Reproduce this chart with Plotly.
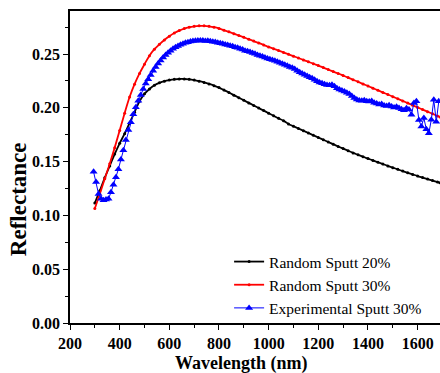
import plotly.graph_objects as go

# ---- data ----
wl_model = [300, 320, 340, 360, 380, 400, 420, 440, 460, 480, 500, 520, 540, 560, 580,
            600, 620, 640, 660, 680, 700, 720, 740, 760, 780, 800, 820, 840, 860, 880,
            900, 920, 940, 960, 980, 1000, 1020, 1040, 1060, 1080, 1100, 1120, 1140, 1160, 1180,
            1200, 1220, 1240, 1260, 1280, 1300, 1320, 1340, 1360, 1380, 1400, 1420, 1440, 1460, 1480,
            1500, 1520, 1540, 1560, 1580, 1600, 1620, 1640, 1660, 1680, 1690]

sputt20 = [0.1115, 0.1230, 0.1350, 0.1460, 0.1570, 0.1670, 0.1760, 0.1860, 0.1960, 0.2060,
           0.2130, 0.2175, 0.2210, 0.2232, 0.2248, 0.2258, 0.2265, 0.2268, 0.2268, 0.2265,
           0.2258, 0.2248, 0.2236, 0.2222, 0.2206, 0.2188, 0.2165, 0.2142, 0.2118, 0.2094,
           0.2070, 0.2046, 0.2022, 0.1998, 0.1974, 0.1950, 0.1926, 0.1902, 0.1879, 0.1850,
           0.1829, 0.1808, 0.1787, 0.1766, 0.1745, 0.1724, 0.1703, 0.1682, 0.1662, 0.1641,
           0.1621, 0.1601, 0.1581, 0.1563, 0.1545, 0.1528, 0.1511, 0.1494, 0.1477, 0.1460,
           0.1444, 0.1428, 0.1412, 0.1396, 0.1381, 0.1366, 0.1352, 0.1338, 0.1324, 0.1310, 0.1303]

sputt30 = [0.1065, 0.1200, 0.1340, 0.1480, 0.1630, 0.1790, 0.1950, 0.2100, 0.2220, 0.2320,
           0.2405, 0.2485, 0.2545, 0.2590, 0.2630, 0.2665, 0.2695, 0.2718, 0.2737, 0.2750,
           0.2758, 0.2762, 0.2762, 0.2758, 0.2750, 0.2738, 0.2722, 0.2706, 0.2689, 0.2672,
           0.2655, 0.2638, 0.2620, 0.2603, 0.2585, 0.2566, 0.2549, 0.2532, 0.2515, 0.2497,
           0.2480, 0.2463, 0.2445, 0.2428, 0.2410, 0.2393, 0.2374, 0.2356, 0.2337, 0.2319,
           0.2300, 0.2281, 0.2261, 0.2242, 0.2222, 0.2203, 0.2183, 0.2163, 0.2143, 0.2124,
           0.2104, 0.2084, 0.2064, 0.2044, 0.2024, 0.2004, 0.1984, 0.1964, 0.1944, 0.1924, 0.1915]

wl_exp = list(range(295, 1690, 10))

exp30 = [0.1405, 0.1310, 0.1200, 0.1155, 0.1140, 0.1148, 0.1155, 0.1215, 0.1285, 0.1355,
         0.1430, 0.1520, 0.1605, 0.1700, 0.1795, 0.1865, 0.1940, 0.2005, 0.2065, 0.2120,
         0.2175, 0.2225, 0.2265, 0.2305, 0.2345, 0.2380, 0.2412, 0.2440, 0.2468, 0.2492,
         0.2512, 0.2530, 0.2548, 0.2562, 0.2575, 0.2586, 0.2595, 0.2604, 0.2610, 0.2616,
         0.2620, 0.2624, 0.2626, 0.2625, 0.2626, 0.2622, 0.2623, 0.2618, 0.2615, 0.2612,
         0.2606, 0.2600, 0.2596, 0.2588, 0.2584, 0.2576, 0.2572, 0.2562, 0.2558, 0.2548,
         0.2542, 0.2530, 0.2526, 0.2518, 0.2510, 0.2502, 0.2490, 0.2484, 0.2476, 0.2468,
         0.2458, 0.2452, 0.2444, 0.2438, 0.2428, 0.2420, 0.2410, 0.2400, 0.2392, 0.2380,
         0.2372, 0.2360, 0.2345, 0.2330, 0.2318, 0.2308, 0.2295, 0.2285, 0.2274, 0.2262,
         0.2248, 0.2235, 0.2228, 0.2220, 0.2212, 0.2210, 0.2214, 0.2200, 0.2182, 0.2170,
         0.2160, 0.2152, 0.2140, 0.2128, 0.2110, 0.2092, 0.2078, 0.2068, 0.2066, 0.2070,
         0.2062, 0.2058, 0.2064, 0.2048, 0.2040, 0.2032, 0.2036, 0.2022, 0.2018, 0.2025,
         0.2012, 0.2004, 0.2010, 0.1998, 0.1986, 0.1978, 0.1995, 0.1985, 0.1935, 0.2045,
         0.2060, 0.1888, 0.1826, 0.1905, 0.1800, 0.1764, 0.1890, 0.2074, 0.1870, 0.2060]

x_ticks = [200, 400, 600, 800, 1000, 1200, 1400, 1600]
y_ticks = [0.00, 0.05, 0.10, 0.15, 0.20, 0.25]

SERIF = "Liberation Serif, Times New Roman, serif"

fig = go.Figure()
fig.add_trace(go.Scatter(x=wl_model, y=sputt20, mode="lines+markers", name="Random Sputt 20%",
                         line=dict(color="#000000", width=1.8, shape="spline"),
                         marker=dict(color="#000000", size=3)))
fig.add_trace(go.Scatter(x=wl_model, y=sputt30, mode="lines+markers", name="Random Sputt 30%",
                         line=dict(color="#ff0000", width=1.8, shape="spline"),
                         marker=dict(color="#ff0000", size=3)))
fig.add_trace(go.Scatter(x=wl_exp, y=exp30, mode="lines+markers", name="Experimental Sputt 30%",
                         line=dict(color="#0000ff", width=1),
                         marker=dict(color="#0000ff", size=7, symbol="triangle-up")))

fig.update_layout(
    width=440, height=373,
    margin=dict(l=70, r=0, t=11, b=50, autoexpand=False),
    paper_bgcolor="white", plot_bgcolor="white",
    showlegend=True,
    legend=dict(x=0.43, y=0.25, xanchor="left", yanchor="top",
                bgcolor="rgba(0,0,0,0)", borderwidth=0,
                font=dict(family=SERIF, size=15.5, color="#000"),
                tracegroupgap=0, itemwidth=30),
    annotations=[
        dict(text="<b>Wavelength (nm)</b>", x=0.464, y=0, xref="paper", yref="paper",
             xanchor="center", yanchor="middle", yshift=-40, showarrow=False,
             font=dict(family=SERIF, size=18, color="#000")),
        dict(text="<b>Reflectance</b>", x=-0.1405, y=0.397, xref="paper", yref="paper",
             xanchor="center", yanchor="middle", textangle=-90, showarrow=False,
             font=dict(family=SERIF, size=23, color="#000")),
    ],
)

fig.update_xaxes(range=[200, 1690], tickvals=x_ticks, showgrid=False, zeroline=False,
                 showline=True, linecolor="#000", linewidth=1.5, mirror=True,
                 ticks="outside", ticklen=5, tickwidth=1.2, tickcolor="#000",
                 minor=dict(dtick=100, tick0=200, ticks="outside", ticklen=3, tickcolor="#000", tickwidth=1),
                 tickfont=dict(family=SERIF, size=16, color="#000", weight="bold"))
fig.update_yaxes(range=[0, 0.29], tickvals=y_ticks, tickformat=".2f", showgrid=False, zeroline=False,
                 showline=True, linecolor="#000", linewidth=1.5, mirror=False,
                 ticks="outside", ticklen=5, tickwidth=1.2, tickcolor="#000",
                 minor=dict(dtick=0.025, tick0=0, ticks="outside", ticklen=3, tickcolor="#000", tickwidth=1),
                 tickfont=dict(family=SERIF, size=16, color="#000", weight="bold"))

fig.write_html("out.html", config={"displayModeBar": False},
               post_script="document.body.style.margin='0';document.body.style.overflow='hidden';")
